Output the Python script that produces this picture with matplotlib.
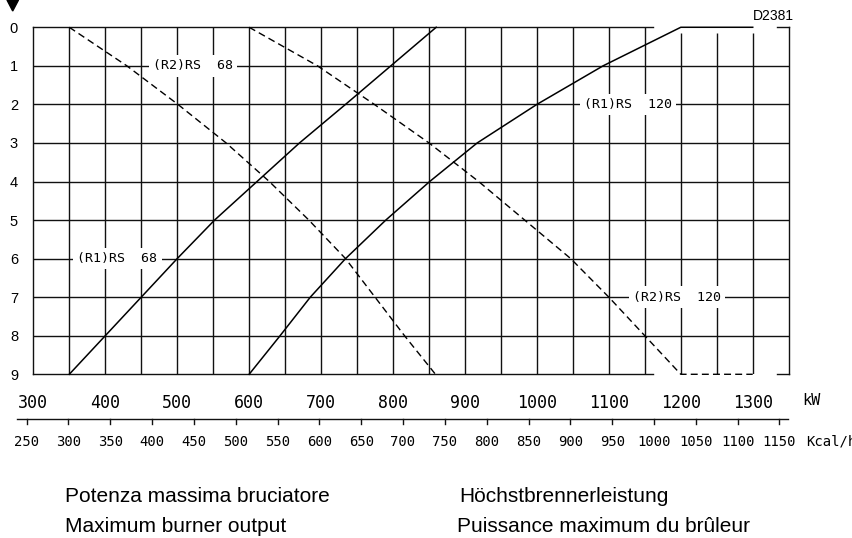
import matplotlib.pyplot as plt
from matplotlib.patches import Polygon

# pressione in camera di combustione (mbar) vs potenza (kW)
righe = [0, 1, 2, 3, 4, 5, 6, 7, 8, 9]
r1_rs68 = [860, 797, 734, 670, 611, 552, 500, 450, 400, 350]
r1_rs120 = [1300, 1200, 1092, 1000, 917, 851, 790, 734, 685, 643, 600]
r1_rs120_righe = [0, 0, 1, 2, 3, 4, 5, 6, 7, 8, 9]
r2_rs68 = [350, 430, 501, 568, 628, 683, 734, 775, 816, 859]
r2_rs120 = [600, 695, 774, 850, 919, 983, 1047, 1100, 1150, 1200, 1300]
r2_rs120_righe = [0, 1, 2, 3, 4, 5, 6, 7, 8, 9, 9]

kw_ticks = list(range(300, 1301, 100))
kcal_ticks = list(range(250, 1151, 50))

X0, X1 = 300, 1350
MONO = 'DejaVu Sans Mono'

fig = plt.figure(figsize=(8.52, 5.38), dpi=100)
ax = fig.add_axes([0.0391, 0.3043, 0.8866, 0.645])
ax.set_xlim(X0, X1)
ax.set_ylim(9, 0)
for s in ax.spines.values():
    s.set_visible(False)

# griglia
ax.hlines(righe[1:-1], X0, X1, color='#111', lw=1.0)
for xv in range(350, 1301, 50):
    ymin = 0.15 if xv >= 1200 else 0
    ax.vlines(xv, ymin, 9, color='#111', lw=1.0)

# cornice (con le interruzioni come nel disegno)
k = dict(color='#111', lw=1.0, clip_on=False)
ax.plot([X0, X0], [0, 9], **k)
ax.plot([X1, X1], [0, 9], **k)
ax.plot([X0, 1162], [0, 0], **k)
ax.plot([X0, 1162], [9, 9], **k)
ax.plot([1334, X1], [0, 0], **k)
ax.plot([1334, X1], [9, 9], **k)

# curve
ax.plot(r1_rs68, righe, color='black', lw=1.1, clip_on=False)
ax.plot(r1_rs120, r1_rs120_righe, color='black', lw=1.1, clip_on=False)
ax.plot(r2_rs68, righe, color='black', lw=1.0, dashes=(5, 3), clip_on=False)
ax.plot(r2_rs120, r2_rs120_righe, color='black', lw=1.0, dashes=(5, 3), clip_on=False)

box = dict(facecolor='white', edgecolor='none', pad=3)
etichette = [('(R2)RS  68', 522, 1), ('(R1)RS  68', 417, 6),
             ('(R1)RS  120', 1127, 2), ('(R2)RS  120', 1195, 7)]
for txt, xx, yy in etichette:
    ax.text(xx, yy, txt, family=MONO, fontsize=9.5, ha='center', va='center',
            bbox=box, zorder=5)

# assi
ax.set_yticks(righe)
ax.set_yticklabels([str(r) for r in righe], family='Liberation Sans', fontsize=10.5)
ax.set_xticks(kw_ticks)
ax.set_xticklabels([str(v) for v in kw_ticks], family=MONO, fontsize=12)
ax.tick_params(axis='y', length=0, pad=11)
ax.tick_params(axis='x', length=0, pad=14)
ax.text(1369, 9.69, 'kW', family=MONO, fontsize=11, ha='left', va='center', clip_on=False)

# scala Kcal/h
ax.plot([277, 1349], [10.17, 10.17], color='#111', lw=1.0, clip_on=False)
for m in kcal_ticks:
    ax.plot([m / 0.86, m / 0.86], [10.17, 10.29], color='#111', lw=1.0, clip_on=False)
    ax.text(m / 0.86, 10.75, str(m), family=MONO, fontsize=10, ha='center',
            va='center', clip_on=False)
ax.text(1374, 10.75, 'Kcal/h', family=MONO, fontsize=10, ha='left', va='center',
        clip_on=False)

fig.text(773 / 852, 1 - 16 / 538, 'D2381', family='Liberation Sans', fontsize=10,
         ha='center', va='center')
fig.patches.append(Polygon([[7 / 852, 1.0], [18.5 / 852, 1.0], [12.7 / 852, 1 - 11 / 538]],
                           closed=True, color='black', transform=fig.transFigure))

fs = 15
fig.text(65 / 852, 1 - 497 / 538, 'Potenza massima bruciatore', family='Liberation Sans',
         fontsize=fs, va='center')
fig.text(65 / 852, 1 - 526 / 538, 'Maximum burner output', family='Liberation Sans',
         fontsize=fs, va='center')
fig.text(459 / 852, 1 - 497 / 538, 'Höchstbrennerleistung', family='Liberation Sans',
         fontsize=fs, va='center')
fig.text(457 / 852, 1 - 526 / 538, 'Puissance maximum du brûleur', family='Liberation Sans',
         fontsize=fs, va='center')

fig.savefig('out.png', dpi=100)
